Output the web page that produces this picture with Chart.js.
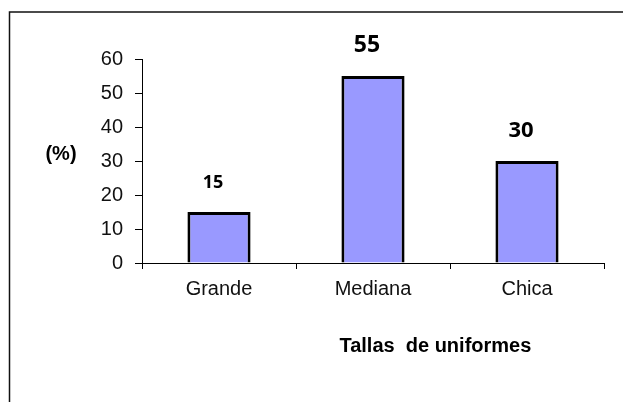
<!DOCTYPE html>
<html>
<head>
<meta charset="utf-8">
<script src="https://cdn.jsdelivr.net/npm/chart.js@4.4.1/dist/chart.umd.min.js"></script>
<style>
  html, body { margin: 0; padding: 0; background: #fff; }
  #wrap { position: relative; width: 623px; height: 402px; }
</style>
</head>
<body>
<div id="wrap"><canvas id="tallasChart" width="623" height="402"></canvas></div>
<script>
// datos del grafico
const tallas = ['Grande', 'Mediana', 'Chica'];
const porcentajes = [15, 55, 30];
const yTicks = [0, 10, 20, 30, 40, 50, 60];

const tituloX = 'Tallas  de uniformes';
const tituloY = '(%)';

// marco, titulos y etiquetas de valor
const extras = {
  id: 'extras',
  beforeDraw(chart) {
    const ctx = chart.ctx;
    ctx.save();
    ctx.strokeStyle = '#111';
    ctx.lineWidth = 1.5;
    ctx.beginPath();
    ctx.moveTo(9.5, 402);
    ctx.lineTo(9.5, 12);
    ctx.lineTo(623, 12);
    ctx.stroke();
    ctx.restore();
  },
  afterDatasetsDraw(chart) {
    const ctx = chart.ctx;
    const area = chart.chartArea;
    const meta = chart.getDatasetMeta(0);
    const sizes = [18, 23, 22]; // tamaños de las etiquetas
    ctx.save();
    ctx.fillStyle = '#000';
    ctx.textAlign = 'center';
    ctx.textBaseline = 'alphabetic';
    meta.data.forEach(function(bar, i) {
      ctx.font = 'bold ' + sizes[i] + 'px "Open Sans", sans-serif';
      ctx.fillText(String(porcentajes[i]), bar.x - 6, bar.y - 24);
    });

    ctx.font = 'bold 20px "Liberation Sans", Arial, sans-serif';
    ctx.textBaseline = 'middle';
    ctx.fillText(tituloY, 61, 154);
    ctx.textBaseline = 'alphabetic';
    ctx.fillText(tituloX, area.left + (area.right - area.left) * 0.635, 352);
    ctx.restore();
  }
};

const ctxTallas = document.getElementById('tallasChart').getContext('2d');
new Chart(ctxTallas, {
  type: 'bar',
  data: {
    labels: tallas,
    datasets: [{
      data: porcentajes,
      backgroundColor: '#9999FF',
      borderColor: '#000',
      borderWidth: 3,
      categoryPercentage: 1,
      barPercentage: 0.41
    }]
  },
  options: {
    responsive: false,
    animation: false,
    layout: { padding: { top: 59, right: 19, left: 0, bottom: 0 } },
    plugins: {
      legend: { display: false },
      tooltip: { enabled: false }
    },
    scales: {
      y: {
        min: 0,
        max: 60,
        afterFit: function(scale) { scale.width = 142; },
        afterBuildTicks: function(scale) {
          scale.ticks = yTicks.map(function(v) { return { value: v }; });
        },
        ticks: {
          color: '#111',
          padding: 12,
          font: { family: '"Liberation Sans", Arial, sans-serif', size: 20 }
        },
        grid: { drawOnChartArea: false, tickLength: 7, color: '#000' },
        border: { color: '#000', width: 1 }
      },
      x: {
        afterFit: function(scale) { scale.height = 139; },
        ticks: {
          color: '#111',
          padding: 8,
          font: { family: '"Liberation Sans", Arial, sans-serif', size: 20 }
        },
        grid: { offset: true, drawOnChartArea: false, tickLength: 6, color: '#000' },
        border: { color: '#000', width: 1 }
      }
    }
  },
  plugins: [extras]
});
</script>
</body>
</html>
